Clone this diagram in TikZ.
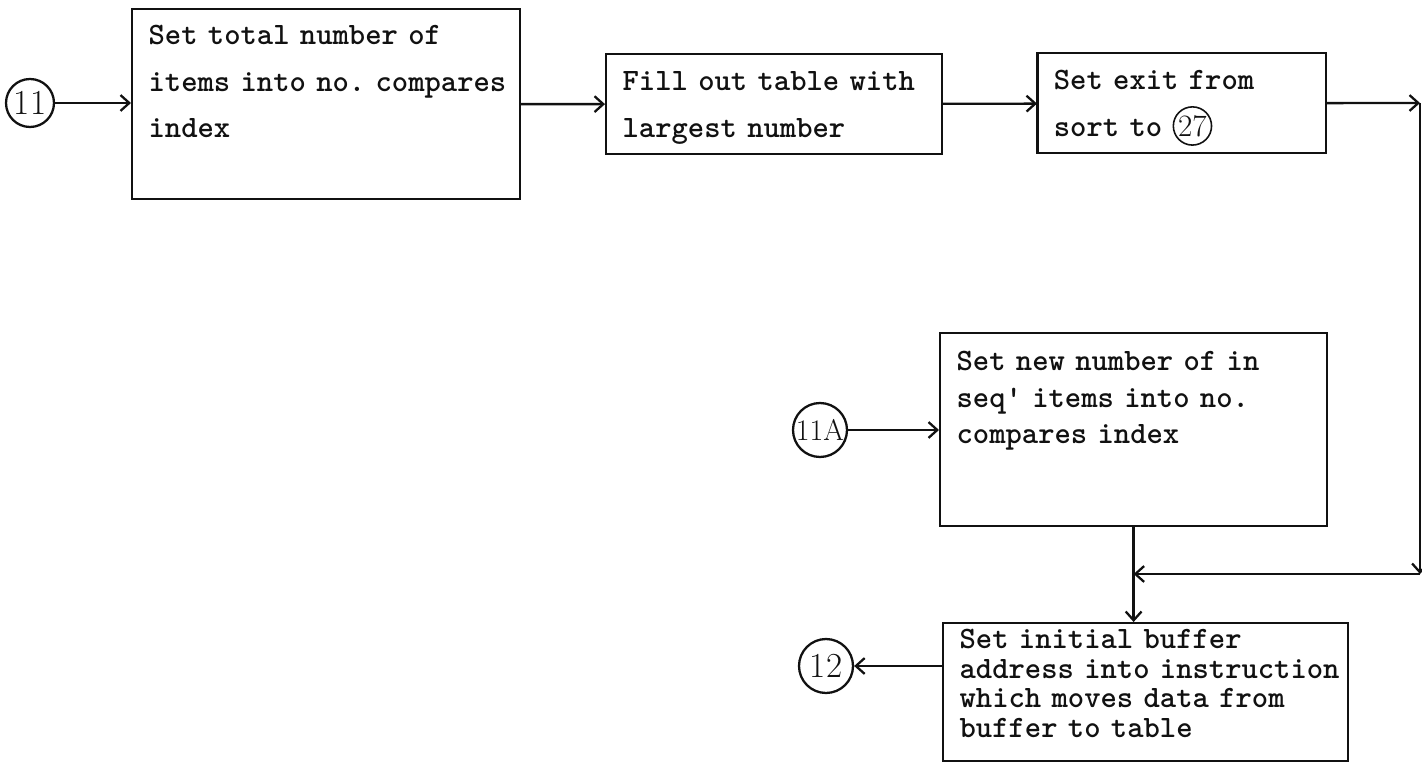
\documentclass[tikz,border=0pt]{standalone}
\usepackage{tikz}
\usetikzlibrary{arrows.meta,positioning}
\definecolor{ink}{HTML}{111111}
\newcommand{\boxfont}[1]{\ttfamily\bfseries\fontsize{17.7}{#1}\selectfont}
\newcommand{\circnum}[1]{\tikz[baseline=(cn.base)]\node[draw,circle,line width=0.9pt,inner sep=0.5pt,font=\rmfamily\mdseries](cn){#1};}

\begin{document}
\begin{tikzpicture}[x=0.02cm,y=-0.02cm,line width=1.3pt,color=ink,
  flowbox/.style={draw,anchor=north west,align=left,inner xsep=0.33cm,inner ysep=0pt},
  conn/.style={draw,circle,inner sep=0pt,font=\rmfamily\fontsize{20}{20}\selectfont},
  flow/.style={-{Straight Barb[length=5pt,width=9pt]}}]
  \useasboundingbox (0,0) rectangle (1422,763);
  % top row
  \node[flowbox,text width=7.1cm,text height=0.7cm,text depth=3.1cm,font=\boxfont{26.7pt}]
    (total) at (131,8) {Set total number of\\items~into~no.~compares\\index};
  \node[flowbox,text width=6.06cm,text height=0.72cm,text depth=1.28cm,font=\boxfont{26.7pt}]
    (fill) at (605,53) {Fill~out~table~with\\largest number};
  \node[flowbox,text width=5.12cm,text height=0.72cm,text depth=1.28cm,font=\boxfont{26.7pt}]
    (exit) at (1037,53) {Set exit from\\sort to \circnum{27}};
  % lower boxes
  \node[flowbox,text width=7.08cm,text height=0.74cm,text depth=3.12cm,font=\boxfont{21pt}]
    (newnum) at (939,332) {Set new number of in\\seq' items into no.\\compares index};
  \node[flowbox,text width=7.44cm,text height=0.5cm,text depth=2.26cm,font=\boxfont{17pt}]
    (buffer) at (942,622) {Set initial buffer\\address~into~instruction\\which moves data from\\buffer to table};
  % connectors
  \node[conn,minimum size=0.96cm] (c11) at (30,103) {11};
  \node[conn,minimum size=1.08cm,font=\rmfamily\fontsize{17}{17}\selectfont] (c11a) at (820,430) {11A};
  \node[conn,minimum size=1.08cm] (c12) at (826,666) {12};
  \coordinate (turn) at (1420,103);
  \coordinate (back) at (1420,574);
  % flow lines
  \draw[flow] (c11) -- (total.west |- c11);
  \draw[flow] (total) -- (fill);
  \draw[flow] (fill) -- (exit);
  \draw[flow] (exit) -- (turn);
  \draw[flow] (turn) -- (back);
  \draw[flow] (back) -- (back -| newnum.south);
  \draw[flow] (newnum.south) -- (newnum.south |- buffer.north);
  \draw[flow] (c11a) -- (c11a -| newnum.west);
  \draw[flow] (c12 -| buffer.west) -- (c12);
\end{tikzpicture}
\end{document}
